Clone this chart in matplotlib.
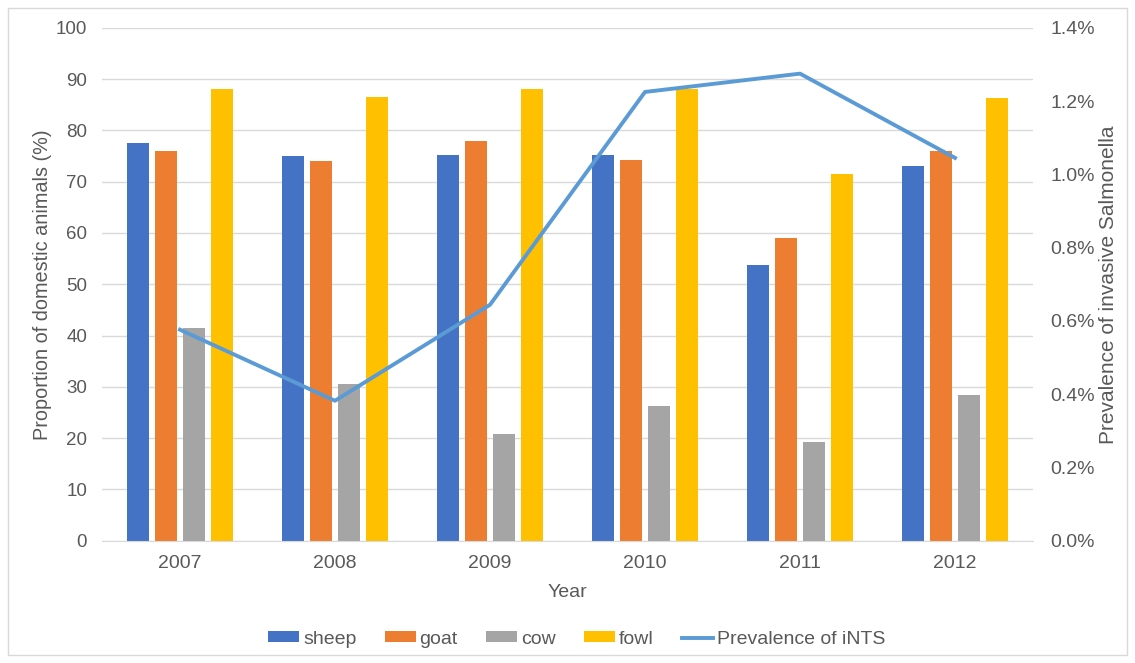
import matplotlib.pyplot as plt
import numpy as np
from matplotlib.ticker import FuncFormatter
from matplotlib.patches import Rectangle

plt.rcParams['font.family'] = ['Liberation Sans', 'DejaVu Sans']

years = ["2007", "2008", "2009", "2010", "2011", "2012"]
sheep = [77.5, 75.0, 75.3, 75.3, 53.7, 73.0]
goat = [76.0, 74.0, 78.0, 74.3, 59.0, 76.0]
cow = [41.5, 30.5, 20.8, 26.3, 19.2, 28.5]
fowl = [88.0, 86.5, 88.0, 88.0, 71.5, 86.3]
int_prev = [0.576, 0.382, 0.644, 1.225, 1.275, 1.045]  # percent

txt = '#595959'
fig = plt.figure(figsize=(11.35, 6.63), dpi=100)
fig.patches.append(Rectangle((0.007, 0.012), 0.986, 0.976, transform=fig.transFigure,
                             fill=False, edgecolor='#D9D9D9', linewidth=1))
ax = fig.add_axes([0.0903, 0.1845, 0.8194, 0.7735])

x = np.arange(len(years))
pitch = 0.18
w = 0.142
series = [("sheep", sheep, '#4472C4'), ("goat", goat, '#ED7D31'),
          ("cow", cow, '#A5A5A5'), ("fowl", fowl, '#FFC000')]
handles = []
for i, (name, vals, col) in enumerate(series):
    b = ax.bar(x + (i - 1.5) * pitch, vals, w, color=col, label=name, zorder=2)
    handles.append(b)

ax.set_xlim(-0.5, len(years) - 0.5)
ax.set_ylim(0, 100)
ax.set_yticks(range(0, 101, 10))
ax.set_xticks(x)
ax.set_xticklabels(years)
ax.grid(axis='y', color='#D9D9D9', linewidth=1, zorder=0)
ax.set_axisbelow(True)
for s in ['top', 'right', 'left']:
    ax.spines[s].set_visible(False)
ax.spines['bottom'].set_color('#D9D9D9')
ax.tick_params(axis='x', length=0, labelsize=14, colors=txt, pad=10)
ax.tick_params(axis='y', length=0, labelsize=13.5, colors=txt, pad=11)
ax.set_xlabel("Year", fontsize=14, color=txt, labelpad=9)
ax.set_ylabel("Proportion of domestic animals (%)", fontsize=14.3, color=txt, labelpad=3)

ax2 = ax.twinx()
line, = ax2.plot(x, int_prev, color='#5B9BD5', linewidth=2.8, label="Prevalence of iNTS", zorder=3)
ax2.set_ylim(0, 1.4)
ax2.set_yticks(np.arange(0, 1.41, 0.2))
ax2.yaxis.set_major_formatter(FuncFormatter(lambda v, p: f"{v:.1f}%"))
for s in ['top', 'right', 'left', 'bottom']:
    ax2.spines[s].set_visible(False)
ax2.tick_params(length=0, labelsize=14, colors=txt, pad=13)
ax2.set_ylabel("Prevalence of invasive Salmonella", fontsize=15, color=txt, labelpad=3)

fig.legend(handles + [line], [h.get_label() for h in handles] + [line.get_label()],
           loc='center', bbox_to_anchor=(0.508, 0.036), ncol=5, frameon=False,
           fontsize=14, labelcolor=txt, handlelength=1.6, handleheight=0.45,
           columnspacing=1.45, handletextpad=0.2)

fig.savefig("out.png", dpi=100)
